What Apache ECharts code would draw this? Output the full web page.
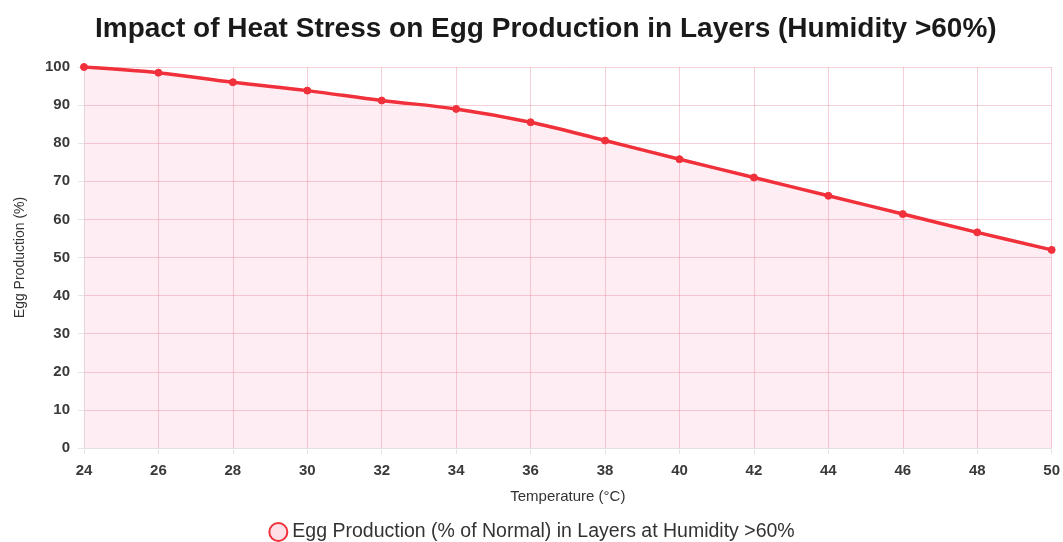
<!DOCTYPE html>
<html>
<head>
<meta charset="utf-8">
<title>Egg production vs temperature</title>
<script src="https://cdn.jsdelivr.net/npm/echarts@6/dist/echarts.min.js"></script>
<style>
  html, body { margin: 0; padding: 0; background: #fff; }
  #chart { width: 1063px; height: 542px; }
</style>
</head>
<body>
<div id="chart"></div>
<script>
// temperature (°C) on the x axis
const temperatures = ['24', '26', '28', '30', '32', '34', '36', '38', '40', '42', '44', '46', '48', '50'];
// egg production, % of normal
const eggProduction = [100, 98.5, 96, 93.8, 91.2, 89, 85.5, 80.7, 75.8, 71, 66.2, 61.4, 56.6, 52];
const seriesName = 'Egg Production (% of Normal) in Layers at Humidity >60%';

const chart = echarts.init(document.getElementById('chart'));

const option = {
  animation: false,
  textStyle: { fontFamily: 'Liberation Sans, Arial, sans-serif' },
  title: {
    text: 'Impact of Heat Stress on Egg Production in Layers (Humidity >60%)',
    left: 90,
    top: 10,
    textStyle: { fontSize: 28, fontWeight: 'bold', color: '#1a1a1a' }
  },
  legend: {
    bottom: -5,
    left: 'center',
    icon: 'circle',
    itemWidth: 18,
    itemHeight: 18,
    itemGap: 10,
    textStyle: { fontSize: 19.5, color: '#333' },
    data: [{
      name: seriesName,
      itemStyle: { color: 'rgba(255, 99, 132, 0.2)', borderColor: '#f0303a', borderWidth: 2 }
    }]
  },
  grid: { left: 84, right: 9, top: 67, bottom: 94 },
  xAxis: {
    type: 'category',
    data: temperatures,
    boundaryGap: false,
    name: 'Temperature (°C)',
    nameLocation: 'middle',
    nameGap: 41,
    nameTextStyle: { fontSize: 15, color: '#333' },
    axisLine: { lineStyle: { color: '#e2e2e2' } },
    axisTick: { show: true, length: 6, lineStyle: { color: '#e6e6e6' } },
    axisLabel: { fontSize: 15, fontWeight: 'bold', color: '#3a3a3a', margin: 15 },
    splitLine: { show: true, lineStyle: { color: 'rgba(235, 150, 165, 0.45)' } }
  },
  yAxis: {
    type: 'value',
    min: 0,
    max: 100,
    interval: 10,
    name: 'Egg Production (%)',
    nameLocation: 'middle',
    nameGap: 57,
    nameTextStyle: { fontSize: 14, color: '#333' },
    axisLine: { show: true, lineStyle: { color: '#e2e2e2' } },
    axisTick: { show: true, length: 6, lineStyle: { color: '#e6e6e6' } },
    axisLabel: { fontSize: 15, fontWeight: 'bold', color: '#3a3a3a', margin: 14 },
    splitLine: { show: true, lineStyle: { color: 'rgba(235, 150, 165, 0.45)' } }
  },
  series: [{
    name: seriesName,
    type: 'line',
    data: eggProduction,
    smooth: 0.35,
    symbol: 'circle',
    symbolSize: 7,
    showAllSymbol: true,
    lineStyle: { color: '#f0303a', width: 3.5 },
    itemStyle: { color: '#f0303a', borderColor: '#f0303a' },
    areaStyle: { color: 'rgba(245, 100, 150, 0.16)' }
  }]
};

chart.setOption(option);
</script>
</body>
</html>
